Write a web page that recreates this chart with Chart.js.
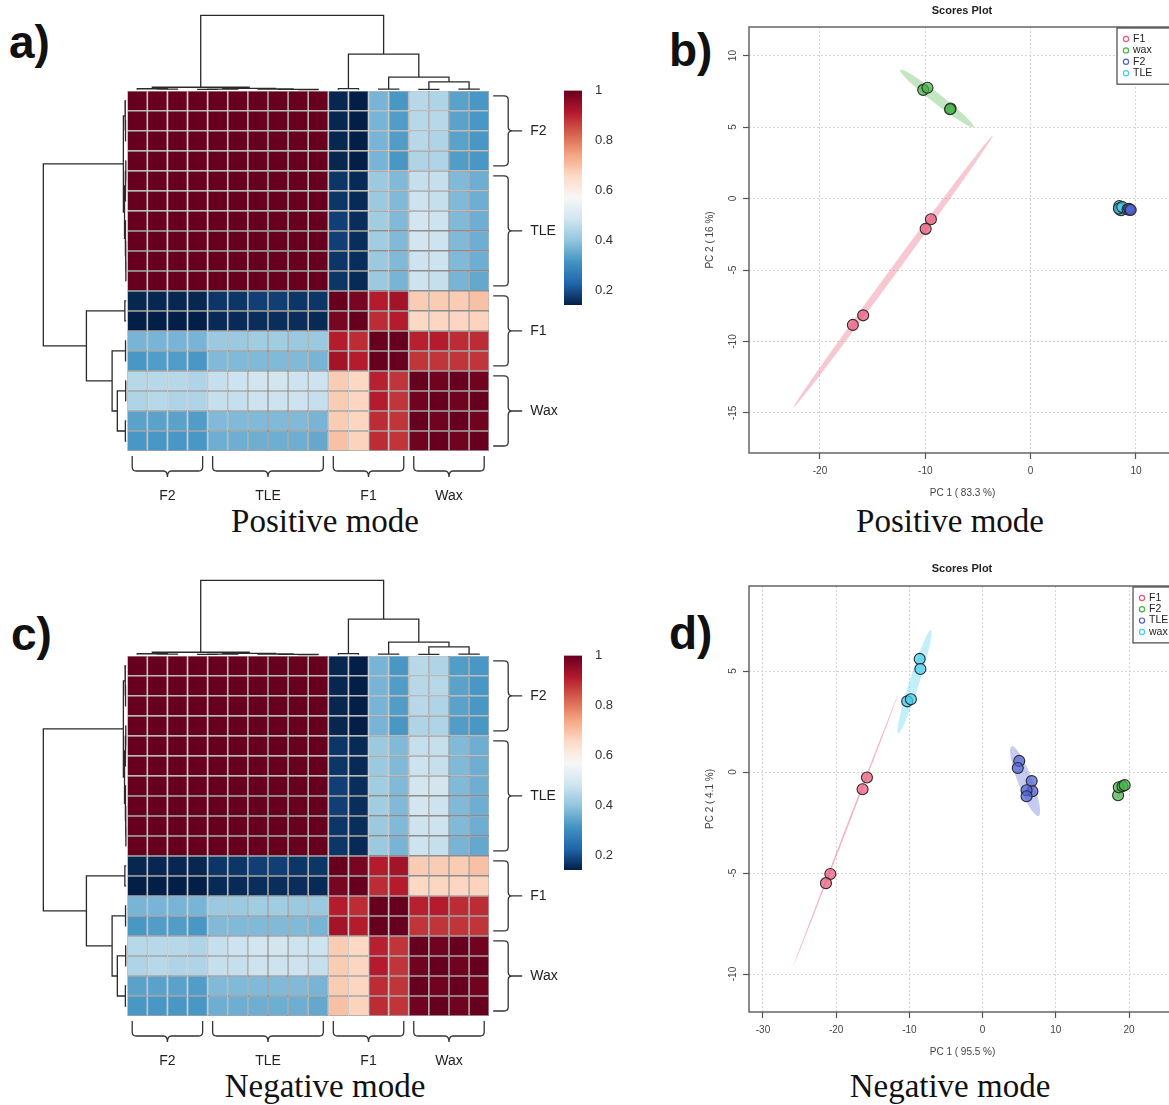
<!DOCTYPE html>
<html>
<head>
<meta charset="utf-8">
<title>Correlation heatmaps and PCA scores plots</title>
<script src="https://cdn.jsdelivr.net/npm/chart.js@4.4.1/dist/chart.umd.min.js"></script>
<style>
  html, body { margin: 0; padding: 0; background: #fff; }
  body { position: relative; width: 1169px; height: 1105px; overflow: hidden; }
  canvas { position: absolute; }
  .tag { position: absolute; font: bold 46px "Liberation Sans", Arial, sans-serif; color: #111; white-space: nowrap; }
  .cap { position: absolute; width: 400px; text-align: center; font: 33px "Liberation Serif", "Times New Roman", serif; color: #111; white-space: nowrap; }
</style>
</head>
<body>
<div class="tag" style="left:9px;top:15px">a)</div>
<div class="tag" style="left:669px;top:23px">b)</div>
<div class="tag" style="left:11px;top:607px">c)</div>
<div class="tag" style="left:669px;top:606px">d)</div>
<div class="cap" style="left:125px;top:503px">Positive mode</div>
<div class="cap" style="left:750px;top:503px">Positive mode</div>
<div class="cap" style="left:125px;top:1068px">Negative mode</div>
<div class="cap" style="left:750px;top:1068px">Negative mode</div>

<canvas id="heatPos" width="560" height="510" style="left:0;top:0"></canvas>
<canvas id="barPos" width="80" height="260" style="left:540px;top:70px"></canvas>
<canvas id="scorePos" width="544" height="510" style="left:690px;top:0"></canvas>
<canvas id="heatNeg" width="560" height="510" style="left:0;top:565px"></canvas>
<canvas id="barNeg" width="80" height="260" style="left:540px;top:635px"></canvas>
<canvas id="scoreNeg" width="544" height="510" style="left:690px;top:560px"></canvas>

<script>
// ---- heatmap data (samples in dendrogram order) ----
const groupNames = ['F2', 'TLE', 'F1', 'Wax'];
const groupSizes = [4, 6, 4, 4];

// correlation matrix, positive mode (row i, column j)
const posCorr = [
  [1,1,1,1,1,1,1,1,1,1, 0.15,0.14, 0.37,0.32, 0.45,0.44, 0.34,0.32],
  [1,1,1,1,1,1,1,1,1,1, 0.15,0.14, 0.37,0.33, 0.45,0.45, 0.34,0.32],
  [1,1,1,1,1,1,1,1,1,1, 0.15,0.14, 0.37,0.33, 0.45,0.44, 0.34,0.32],
  [1,1,1,1,1,1,1,1,1,1, 0.15,0.14, 0.37,0.32, 0.44,0.44, 0.33,0.32],
  [1,1,1,1,1,1,1,1,1,1, 0.17,0.155, 0.41,0.38, 0.47,0.47, 0.38,0.36],
  [1,1,1,1,1,1,1,1,1,1, 0.17,0.155, 0.41,0.38, 0.48,0.47, 0.38,0.36],
  [1,1,1,1,1,1,1,1,1,1, 0.18,0.16, 0.42,0.38, 0.49,0.48, 0.38,0.36],
  [1,1,1,1,1,1,1,1,1,1, 0.18,0.16, 0.42,0.38, 0.49,0.48, 0.38,0.36],
  [1,1,1,1,1,1,1,1,1,1, 0.17,0.16, 0.41,0.38, 0.48,0.48, 0.38,0.36],
  [1,1,1,1,1,1,1,1,1,1, 0.17,0.155, 0.41,0.37, 0.48,0.47, 0.37,0.35],
  [0.15,0.15,0.15,0.15, 0.17,0.17,0.18,0.18,0.17,0.17, 1,0.98, 0.91,0.93, 0.68,0.68,0.68,0.70],
  [0.14,0.14,0.14,0.14, 0.155,0.155,0.16,0.16,0.16,0.155, 0.98,1, 0.89,0.91, 0.66,0.665,0.665,0.67],
  [0.37,0.37,0.37,0.37, 0.41,0.41,0.42,0.42,0.41,0.41, 0.91,0.89, 1,1, 0.905,0.91,0.89,0.89],
  [0.32,0.33,0.33,0.32, 0.38,0.38,0.38,0.38,0.38,0.37, 0.93,0.91, 1,1, 0.88,0.88,0.88,0.88],
  [0.45,0.45,0.45,0.44, 0.47,0.48,0.49,0.49,0.48,0.48, 0.68,0.66, 0.905,0.88, 1,0.99,1,0.99],
  [0.44,0.45,0.44,0.44, 0.47,0.47,0.48,0.48,0.48,0.47, 0.68,0.665, 0.91,0.88, 0.99,1,0.99,1],
  [0.34,0.34,0.34,0.33, 0.38,0.38,0.38,0.38,0.38,0.37, 0.68,0.665, 0.89,0.88, 1,0.99,1,0.99],
  [0.32,0.32,0.32,0.32, 0.36,0.36,0.36,0.36,0.36,0.35, 0.70,0.67, 0.89,0.88, 0.99,1,0.99,1]
];

// correlation matrix, negative mode
const negCorr = [
  [1,1,1,1,1,1,1,1,1,1, 0.15,0.14, 0.37,0.32, 0.45,0.44, 0.33,0.32],
  [1,1,1,1,1,1,1,1,1,1, 0.15,0.14, 0.37,0.33, 0.45,0.45, 0.34,0.32],
  [1,1,1,1,1,1,1,1,1,1, 0.15,0.14, 0.37,0.33, 0.45,0.44, 0.34,0.32],
  [1,1,1,1,1,1,1,1,1,1, 0.15,0.14, 0.37,0.32, 0.44,0.44, 0.33,0.32],
  [1,1,1,1,1,1,1,1,1,1, 0.17,0.155, 0.41,0.38, 0.47,0.47, 0.38,0.36],
  [1,1,1,1,1,1,1,1,1,1, 0.17,0.155, 0.41,0.38, 0.48,0.47, 0.38,0.36],
  [1,1,1,1,1,1,1,1,1,1, 0.18,0.16, 0.42,0.38, 0.49,0.49, 0.38,0.36],
  [1,1,1,1,1,1,1,1,1,1, 0.18,0.16, 0.42,0.38, 0.49,0.48, 0.38,0.36],
  [1,1,1,1,1,1,1,1,1,1, 0.17,0.16, 0.41,0.38, 0.48,0.48, 0.38,0.36],
  [1,1,1,1,1,1,1,1,1,1, 0.17,0.155, 0.41,0.37, 0.48,0.47, 0.37,0.35],
  [0.15,0.15,0.15,0.15, 0.17,0.17,0.18,0.18,0.17,0.17, 1,0.98, 0.91,0.93, 0.68,0.68,0.68,0.70],
  [0.14,0.14,0.14,0.14, 0.155,0.155,0.16,0.16,0.16,0.155, 0.98,1, 0.89,0.91, 0.66,0.665,0.665,0.67],
  [0.37,0.37,0.37,0.37, 0.41,0.41,0.42,0.42,0.41,0.41, 0.91,0.89, 1,1, 0.905,0.91,0.89,0.89],
  [0.32,0.33,0.33,0.32, 0.38,0.38,0.38,0.38,0.38,0.37, 0.93,0.91, 1,1, 0.88,0.88,0.88,0.88],
  [0.45,0.45,0.45,0.44, 0.47,0.48,0.49,0.49,0.48,0.48, 0.68,0.66, 0.905,0.88, 1,0.99,1,0.99],
  [0.44,0.45,0.44,0.44, 0.47,0.47,0.48,0.48,0.48,0.47, 0.68,0.665, 0.91,0.88, 0.99,1,0.99,1],
  [0.34,0.34,0.34,0.33, 0.38,0.38,0.38,0.38,0.38,0.37, 0.68,0.665, 0.89,0.88, 1,0.99,1,0.99],
  [0.32,0.32,0.32,0.32, 0.36,0.36,0.36,0.36,0.36,0.35, 0.70,0.67, 0.89,0.88, 0.99,1,0.99,1]
];

// hierarchical clustering of the 18 samples: [left, right, merge height]
const sampleTree = [
  [[0, [1, 2, 0.008], 0.014], [[[3, 4, 0.005], 5, 0.010], [6, [7, [8, 9, 0.004], 0.007], 0.011], 0.02], 0.034],
  [[10, 11, 0.016], [[12, 13, 0.008], [[14, 15, 0.006], [16, 17, 0.010], 0.107], 0.17], 0.48],
  1.0
];

// colour key
const keyMin = 0.142, keyMax = 1.0;
const keyTicks = [0.2, 0.4, 0.6, 0.8, 1];
const keyColors = ['#041f47', '#2166ac', '#4393c3', '#92c5de', '#d1e5f0', '#f7f7f7',
                   '#fddbc7', '#f4a582', '#d6604d', '#b2182b', '#67001f'];

// ---- PCA scores, positive mode ----
const posScoreGroups = ['F1', 'wax', 'F2', 'TLE'];
const posScoreF1  = [[-9.47, -1.45], [-9.97, -2.12], [-16.88, -8.84], [-15.9, -8.17]];
const posScoreWax = [[-10.2, 7.6], [-9.8, 7.75], [-7.6, 6.3], [-7.65, 6.25]];
const posScoreF2  = [[9.2, -0.76], [9.43, -0.79], [9.35, -0.72], [9.5, -0.8]];
const posScoreTLE = [[8.42, -0.53], [8.48, -0.79], [8.55, -0.65], [8.6, -0.82], [8.38, -0.7], [8.7, -0.6]];
// 95% ellipses: centre x, centre y, semi-axis a, semi-axis b, angle (deg)
const posEllF1  = [-13.05, -5.1, 13.4, 0.29, 45.15];
const posEllWax = [-8.9, 7.0, 4.03, 0.38, -29.7];
const posEllF2  = [9.38, -0.77, 0.3, 0.1, 0];
const posEllTLE = [8.52, -0.67, 0.3, 0.18, 60];
const posScoreXTicks = [-20, -10, 0, 10];
const posScoreYTicks = [-15, -10, -5, 0, 5, 10];

// ---- PCA scores, negative mode ----
const negScoreGroups = ['F1', 'F2', 'TLE', 'wax'];
const negScoreF1  = [[-15.8, -0.27], [-16.4, -0.85], [-20.8, -5.05], [-21.4, -5.5]];
const negScoreF2  = [[18.5, -1.15], [18.6, -0.75], [19.1, -0.7], [19.4, -0.65]];
const negScoreTLE = [[5.0, 0.55], [4.8, 0.2], [6.7, -0.45], [6.8, -0.95], [6.0, -0.9], [6.0, -1.2]];
const negScoreWax = [[-8.6, 5.6], [-8.5, 5.1], [-10.3, 3.5], [-9.8, 3.6]];
const negEllF1  = [-18.75, -2.93, 9.82, 0.08, 43.2];
const negEllF2  = [18.9, -0.85, 0.7, 0.22, 35];
const negEllTLE = [5.8, -0.45, 2.59, 0.7, -39.5];
const negEllWax = [-9.3, 4.47, 3.42, 0.53, 47.8];
const negScoreXTicks = [-30, -20, -10, 0, 10, 20];
const negScoreYTicks = [-10, -5, 0, 5];

// ---- styles ----
Chart.defaults.font.family = '"Liberation Sans", Arial, sans-serif';
const groupRGB = ['233,88,119', '70,180,70', '80,98,212', '70,205,235'];

function hexRGB(h) { return [1, 3, 5].map(k => parseInt(h.slice(k, k + 2), 16)); }
function heatColor(v) {
  let t = (v - keyMin) / (keyMax - keyMin);
  t = Math.max(0, Math.min(1, t)) * (keyColors.length - 1);
  const k = Math.min(Math.floor(t), keyColors.length - 2), f = t - k;
  const a = hexRGB(keyColors[k]), b = hexRGB(keyColors[k + 1]);
  return 'rgb(' + a.map((c, n) => Math.round(c + (b[n] - c) * f)).join(',') + ')';
}

// dendrogram as one polyline with gaps; toPoint maps (leaf position, height) to data coords
function dendroPath(tree, toPoint) {
  const pts = [];
  function walk(node) {
    if (typeof node === 'number') return {pos: node + 0.5, h: 0};
    const l = walk(node[0]), r = walk(node[1]), h = node[2];
    pts.push(toPoint(l.pos, l.h), toPoint(l.pos, h), toPoint(r.pos, h), toPoint(r.pos, r.h), {x: null, y: null});
    return {pos: (l.pos + r.pos) / 2, h: h};
  }
  walk(tree);
  return pts;
}

function braceDown(ctx, x1, x2, y, d, s) {
  const r = 4, m = (x1 + x2) / 2;
  ctx.beginPath();
  ctx.moveTo(x1, y);
  ctx.lineTo(x1, y + d - r);
  ctx.quadraticCurveTo(x1, y + d, x1 + r, y + d);
  ctx.lineTo(m - r, y + d);
  ctx.quadraticCurveTo(m, y + d, m, y + d + s);
  ctx.moveTo(m, y + d + s);
  ctx.quadraticCurveTo(m, y + d, m + r, y + d);
  ctx.lineTo(x2 - r, y + d);
  ctx.quadraticCurveTo(x2, y + d, x2, y + d - r);
  ctx.lineTo(x2, y);
  ctx.stroke();
}

function braceRight(ctx, y1, y2, x, d, s) {
  const r = 4, m = (y1 + y2) / 2;
  ctx.beginPath();
  ctx.moveTo(x, y1);
  ctx.lineTo(x + d - r, y1);
  ctx.quadraticCurveTo(x + d, y1, x + d, y1 + r);
  ctx.lineTo(x + d, m - r);
  ctx.quadraticCurveTo(x + d, m, x + d + r, m);
  ctx.lineTo(x + d + s, m);
  ctx.moveTo(x + d + r, m);
  ctx.quadraticCurveTo(x + d, m, x + d, m + r);
  ctx.lineTo(x + d, y2 - r);
  ctx.quadraticCurveTo(x + d, y2, x + d - r, y2);
  ctx.lineTo(x, y2);
  ctx.stroke();
}

const groupBraces = {
  id: 'groupBraces',
  afterDraw(chart) {
    const {ctx, chartArea: a, scales: {x, y}} = chart;
    ctx.save();
    ctx.strokeStyle = '#333';
    ctx.lineWidth = 1.3;
    ctx.fillStyle = '#222';
    ctx.font = '14px "Liberation Sans", Arial, sans-serif';
    ctx.textBaseline = 'middle';
    let start = 0;
    groupNames.forEach((name, g) => {
      const end = start + groupSizes[g];
      const x1 = x.getPixelForValue(start) + 5, x2 = x.getPixelForValue(end) - 5;
      braceDown(ctx, x1, x2, a.bottom + 5, 15, 6);
      ctx.textAlign = 'center';
      ctx.fillText(name, (x1 + x2) / 2, a.bottom + 45);
      const y1 = y.getPixelForValue(start) + 5, y2 = y.getPixelForValue(end) - 5;
      braceRight(ctx, y1, y2, a.right + 4, 15, 14);
      ctx.textAlign = 'left';
      ctx.fillText(name, a.right + 41, (y1 + y2) / 2);
      start = end;
    });
    ctx.restore();
  }
};

function heatmapChart(id, corr) {
  const n = corr.length;
  const cells = [], colors = [];
  corr.forEach((row, i) => row.forEach((v, j) => {
    cells.push({x: j + 0.5, y: [i, i + 1]});
    colors.push(heatColor(v));
  }));
  const gap = 0.05, topLen = 3.72, leftLen = 4.12;
  const dendroStyle = {type: 'line', borderColor: '#2a2a2a', borderWidth: 1.3, pointRadius: 0,
                       fill: false, clip: false, spanGaps: false, tension: 0};
  return new Chart(document.getElementById(id), {
    type: 'bar',
    data: {
      datasets: [
        {type: 'bar', data: cells, backgroundColor: colors, borderColor: '#8c8c8c', borderWidth: 0.8,
         borderSkipped: false, inflateAmount: 0, barPercentage: 1, categoryPercentage: 1, grouped: false},
        Object.assign({data: dendroPath(sampleTree, (p, h) => ({x: p, y: -(gap + h * topLen)}))}, dendroStyle),
        Object.assign({data: dendroPath(sampleTree, (p, h) => ({x: -(gap + h * leftLen), y: p}))}, dendroStyle)
      ]
    },
    options: {
      responsive: false,
      animation: false,
      events: [],
      layout: {padding: {left: 127.2, right: 70.8, top: 90.8, bottom: 59}},
      scales: {
        x: {type: 'linear', min: 0, max: n, offset: false, display: false, ticks: {stepSize: 1}},
        y: {type: 'linear', min: 0, max: n, reverse: true, display: false}
      },
      plugins: {legend: {display: false}, tooltip: {enabled: false}}
    },
    plugins: [groupBraces]
  });
}

function colorKey(id) {
  return new Chart(document.getElementById(id), {
    type: 'bar',
    data: {
      labels: [''],
      datasets: [{
        data: [[keyMin, keyMax]],
        barPercentage: 1,
        categoryPercentage: 1,
        borderWidth: 0,
        backgroundColor: c => {
          const chart = c.chart;
          if (!chart.chartArea) return 'transparent';
          const ys = chart.scales.y;
          const g = chart.ctx.createLinearGradient(0, ys.getPixelForValue(keyMin), 0, ys.getPixelForValue(keyMax));
          keyColors.forEach((col, k) => g.addColorStop(k / (keyColors.length - 1), col));
          return g;
        }
      }]
    },
    options: {
      responsive: false,
      animation: false,
      events: [],
      layout: {padding: {left: 24, right: 0, top: 20.5, bottom: 25}},
      scales: {
        x: {display: false},
        y: {
          position: 'right', min: keyMin, max: keyMax,
          grid: {display: false}, border: {display: false},
          afterBuildTicks: s => { s.ticks = keyTicks.map(v => ({value: v})); },
          afterFit: s => { s.width = 38; },
          ticks: {padding: 5, color: '#333', font: {size: 13}, callback: v => v === 1 ? '1' : v.toFixed(1)}
        }
      },
      plugins: {legend: {display: false}, tooltip: {enabled: false}}
    }
  });
}

// confidence ellipses drawn in data units through the chart scales
const scoreEllipses = {
  id: 'scoreEllipses',
  beforeDatasetsDraw(chart, args, opts) {
    const {ctx, chartArea: a, scales: {x, y}} = chart;
    const ox = x.getPixelForValue(0), oy = y.getPixelForValue(0);
    const kx = x.getPixelForValue(1) - ox, ky = y.getPixelForValue(1) - oy;
    ctx.save();
    ctx.beginPath();
    ctx.rect(a.left, a.top, a.right - a.left, a.bottom - a.top);
    ctx.clip();
    opts.list.forEach((e, k) => {
      ctx.save();
      ctx.translate(ox, oy);
      ctx.scale(kx, ky);
      ctx.beginPath();
      ctx.ellipse(e[0], e[1], e[2], e[3], e[4] * Math.PI / 180, 0, 2 * Math.PI);
      ctx.restore();
      ctx.fillStyle = 'rgba(' + groupRGB[k] + ',' + (e[3] < 0.15 ? 0.45 : 0.33) + ')';
      ctx.fill();
    });
    ctx.restore();
  }
};

const plotFrame = {
  id: 'plotFrame',
  afterDraw(chart) {
    const {ctx, chartArea: a} = chart;
    ctx.save();
    ctx.strokeStyle = '#5a5a5a';
    ctx.lineWidth = 1.4;
    ctx.strokeRect(a.left, a.top, a.right - a.left, a.bottom - a.top);
    ctx.restore();
  }
};

const boxLegend = {
  id: 'boxLegend',
  afterDraw(chart, args, opts) {
    const {ctx, chartArea: a} = chart;
    const sets = chart.data.datasets;
    const h = opts.first * 2 + opts.rowH * (sets.length - 1);
    ctx.save();
    ctx.fillStyle = '#fff';
    ctx.fillRect(opts.left, opts.top, a.right - 2 - opts.left, h);
    ctx.strokeStyle = '#444';
    ctx.lineWidth = 1.2;
    ctx.strokeRect(opts.left, opts.top, a.right - 2 - opts.left, h);
    ctx.font = '10.5px "Liberation Sans", Arial, sans-serif';
    ctx.textBaseline = 'middle';
    ctx.textAlign = 'left';
    sets.forEach((ds, k) => {
      const yy = opts.top + opts.first + k * opts.rowH;
      ctx.beginPath();
      ctx.arc(opts.left + 9, yy, 2.6, 0, 2 * Math.PI);
      ctx.strokeStyle = 'rgb(' + groupRGB[k] + ')';
      ctx.lineWidth = 1.2;
      ctx.stroke();
      ctx.fillStyle = '#222';
      ctx.fillText(ds.label, opts.left + 16, yy);
    });
    ctx.restore();
  }
};

function scoresPlot(id, groups, series, ellipses, xr, yr, xTicks, yTicks, xTitle, yTitle, titlePad, bottomPad, legendPos) {
  const tickFont = {size: 10};
  const gridStyle = {color: '#d6d6d6', lineWidth: 1, tickLength: 6, tickColor: '#555', tickWidth: 1.2};
  return new Chart(document.getElementById(id), {
    type: 'scatter',
    data: {
      datasets: groups.map((g, k) => ({
        label: g,
        data: series[k].map(p => ({x: p[0], y: p[1]})),
        backgroundColor: 'rgba(' + groupRGB[k] + ',0.72)',
        borderColor: '#2b2b2b',
        borderWidth: 1.1,
        pointRadius: 5.5
      }))
    },
    options: {
      responsive: false,
      animation: false,
      events: [],
      layout: {padding: {left: 0, right: 0, top: 0, bottom: bottomPad}},
      scales: {
        x: {
          type: 'linear', min: xr[0], max: xr[1],
          afterBuildTicks: s => { s.ticks = xTicks.map(v => ({value: v})); },
          afterFit: s => { s.height = 50; },
          grid: gridStyle,
          border: {display: false, dash: [2, 2]},
          ticks: {color: '#444', font: tickFont, padding: 6, maxRotation: 0},
          title: {display: true, text: xTitle, color: '#444', font: tickFont, padding: {top: 0, bottom: 4}}
        },
        y: {
          type: 'linear', position: 'left', min: yr[0], max: yr[1],
          afterBuildTicks: s => { s.ticks = yTicks.map(v => ({value: v})); },
          afterFit: s => { s.width = 59; },
          grid: gridStyle,
          border: {display: false, dash: [2, 2]},
          ticks: {color: '#444', font: tickFont, padding: 3, minRotation: 90, maxRotation: 90, crossAlign: 'center'},
          title: {display: true, text: yTitle, color: '#444', font: tickFont, padding: {top: 14, bottom: 0}}
        },
        pad: {
          type: 'linear', position: 'right', display: true,
          grid: {display: false}, border: {display: false}, ticks: {display: false},
          afterFit: s => { s.width = 58; }
        }
      },
      plugins: {
        legend: {display: false},
        tooltip: {enabled: false},
        title: {display: true, text: 'Scores Plot', color: '#222', font: {size: 11, weight: 'bold'}, padding: titlePad},
        scoreEllipses: {list: ellipses},
        boxLegend: legendPos
      }
    },
    plugins: [scoreEllipses, plotFrame, boxLegend]
  });
}

heatmapChart('heatPos', posCorr);
colorKey('barPos');
scoresPlot('scorePos', posScoreGroups, [posScoreF1, posScoreWax, posScoreF2, posScoreTLE],
  [posEllF1, posEllWax, posEllF2, posEllTLE], [-26.74, 13.8], [-17.8, 12.0],
  posScoreXTicks, posScoreYTicks, 'PC 1 ( 83.3 %)', 'PC 2 ( 16 %)',
  {top: 4, bottom: 9.8}, 7, {left: 427, top: 28, first: 11, rowH: 11.4});

heatmapChart('heatNeg', negCorr);
colorKey('barNeg');
scoresPlot('scoreNeg', negScoreGroups, [negScoreF1, negScoreF2, negScoreTLE, negScoreWax],
  [negEllF1, negEllF2, negEllTLE, negEllWax], [-31.91, 26.41], [-11.88, 9.21],
  negScoreXTicks, negScoreYTicks, 'PC 1 ( 95.5 %)', 'PC 2 ( 4.1 %)',
  {top: 2.7, bottom: 10.1}, 8, {left: 443, top: 27, first: 11, rowH: 11.3});
</script>
</body>
</html>
